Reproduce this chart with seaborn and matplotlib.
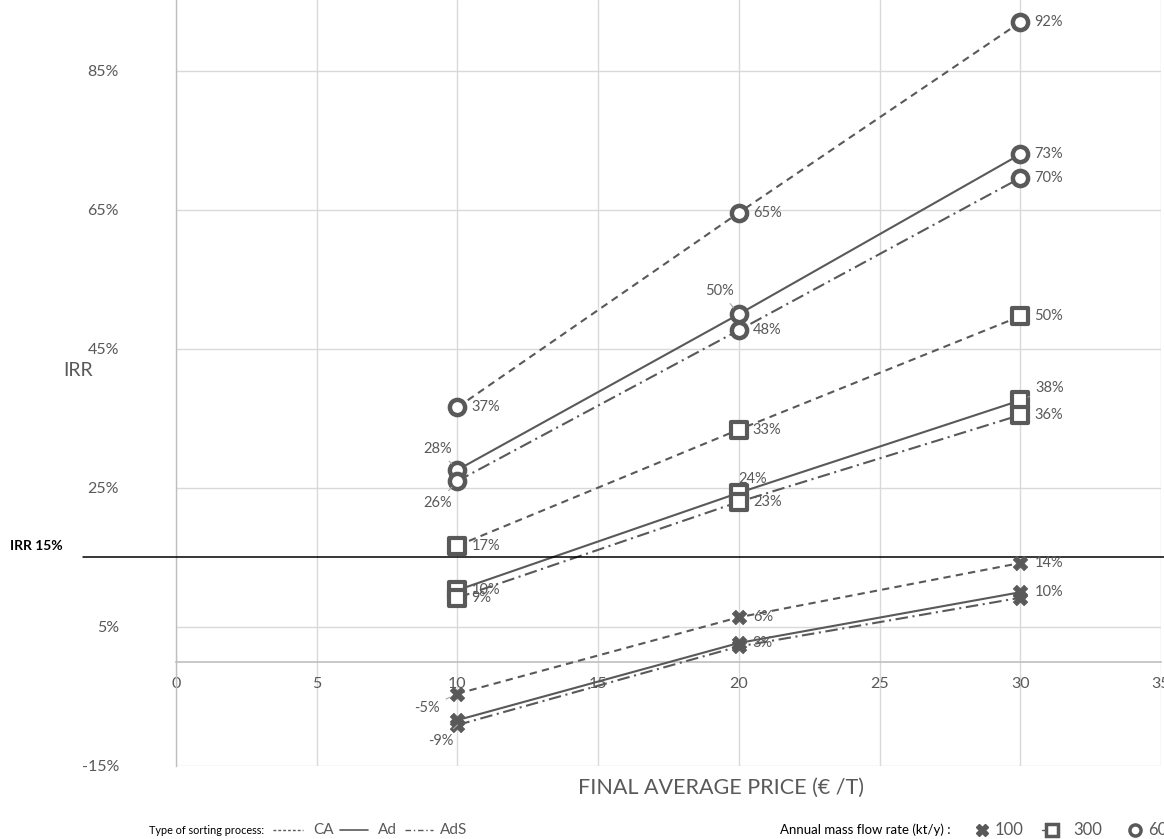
import matplotlib
matplotlib.use("Agg")
import matplotlib.pyplot as plt
from matplotlib.lines import Line2D
import seaborn as sns
import pandas as pd

# ---------------- data ----------------
prices = [10, 20, 30]
processes = ["CA", "Ad", "AdS"]
rates = [100, 300, 600]

ca_100 = [-4.6, 6.4, 14.2]
ca_300 = [16.7, 33.4, 49.7]
ca_600 = [36.6, 64.6, 92.0]
ad_100 = [-8.4, 2.7, 10.0]
ad_300 = [10.3, 24.3, 37.6]
ad_600 = [27.6, 50.0, 73.0]
ads_100 = [-9.1, 2.2, 9.2]
ads_300 = [9.2, 23.0, 35.5]
ads_600 = [26.0, 47.7, 69.6]

y_ticks = [-15, 5, 25, 45, 65, 85]
x_ticks = [0, 5, 10, 15, 20, 25, 30, 35]
irr_threshold = 15

series = {
    ("CA", 100): ca_100, ("CA", 300): ca_300, ("CA", 600): ca_600,
    ("Ad", 100): ad_100, ("Ad", 300): ad_300, ("Ad", 600): ad_600,
    ("AdS", 100): ads_100, ("AdS", 300): ads_300, ("AdS", 600): ads_600,
}
rows = []
for (proc, rate), vals in series.items():
    for p, v in zip(prices, vals):
        rows.append({"process": proc, "rate": rate, "price": p, "irr": v})
df = pd.DataFrame(rows)

# ---------------- style ----------------
sns.set_theme(style="white")
plt.rcParams["font.family"] = ["Lato", "DejaVu Sans"]

W, H = 1164, 839
fig = plt.figure(figsize=(W / 100, H / 100), dpi=100)
fx = lambda x: x / W
fy = lambda y: 1 - y / H

ax = fig.add_axes([fx(176), fy(766), fx(1161) - fx(176), fy(0) - fy(766)])
ax.set_xlim(0, 35)
ax.set_ylim(-15, 95.2)

GRAY = "#595959"
GRID = "#d9d9d9"

# lines
dashes = {"CA": (3.5, 2.5), "Ad": "", "AdS": (6, 2.2, 1, 2.2)}
sns.lineplot(data=df, x="price", y="irr", style="process", units="rate",
             estimator=None, dashes=dashes, color=GRAY, linewidth=1.5,
             legend=False, sort=False, ax=ax, zorder=3)
for l in ax.lines:
    l.set_color(GRAY)

# markers
for rate in rates:
    sub = df[df["rate"] == rate]
    if rate == 100:
        sns.scatterplot(data=sub, x="price", y="irr", marker="X", s=110,
                        color=GRAY, edgecolor=GRAY, linewidth=0.5,
                        legend=False, ax=ax, zorder=5)
    elif rate == 300:
        sns.scatterplot(data=sub, x="price", y="irr", marker="s", s=120,
                        facecolor="white", edgecolor=GRAY, linewidth=3,
                        legend=False, ax=ax, zorder=5)
    else:
        sns.scatterplot(data=sub, x="price", y="irr", marker="o", s=120,
                        facecolor="white", edgecolor=GRAY, linewidth=3.2,
                        legend=False, ax=ax, zorder=5)

# data labels
special = {
    ("CA", 100, 10): ((-30, -14), "center", True),
    ("AdS", 100, 10): ((-17, -16), "center", True),
    ("Ad", 300, 20): ((14, 14), "center", False),
    ("Ad", 300, 30): ((15, 12), "left", True),
    ("Ad", 600, 10): ((-20, 21), "center", True),
    ("AdS", 600, 10): ((-20, -22), "center", True),
    ("Ad", 600, 20): ((-19, 23), "center", True),
}
hidden = {("Ad", 100, 10), ("AdS", 100, 20), ("AdS", 100, 30)}
for (proc, rate), vals in series.items():
    for p, v in zip(prices, vals):
        key = (proc, rate, p)
        if key in hidden:
            continue
        off, ha, leader = special.get(key, ((14, 0), "left", False))
        kw = {}
        if leader:
            kw["arrowprops"] = dict(arrowstyle="-", color="#a6a6a6", lw=0.8,
                                    shrinkA=2, shrinkB=6)
        ax.annotate(f"{round(v):.0f}%", (p, v), xytext=off,
                    textcoords="offset pixels", ha=ha, va="center",
                    fontsize=10.5, color=GRAY, zorder=6, **kw)

# IRR threshold line
ax.axhline(irr_threshold, xmin=-(176 - 83) / 985, xmax=1.01, color="black",
           lw=1.1, clip_on=False, zorder=4)

# axes styling
ax.set_xticks(x_ticks)
ax.set_yticks(y_ticks)
ax.set_yticklabels([f"{t}%" for t in y_ticks])
ax.set_xticklabels([str(t) for t in x_ticks])
ax.grid(True, color=GRID, lw=1)
ax.set_axisbelow(True)
for s in ["top", "right"]:
    ax.spines[s].set_visible(False)
ax.spines["bottom"].set_position(("data", 0))
ax.spines["bottom"].set_color("#bfbfbf")
ax.spines["left"].set_color("#bfbfbf")
ax.spines["bottom"].set_linewidth(1.2)
ax.spines["left"].set_linewidth(1.0)
ax.tick_params(axis="y", length=0, pad=41, labelsize=11.5, labelcolor=GRAY)
ax.tick_params(axis="x", length=0, pad=11, labelsize=11.5, labelcolor=GRAY)
ax.set_xlabel("")
ax.set_ylabel("")

# titles / texts
fig.text(fx(78), fy(371), "IRR", ha="center", va="center", fontsize=14, color=GRAY)
fig.text(fx(10), fy(546), "IRR 15%", ha="left", va="center", fontsize=10,
         fontweight="bold", color="black")
fig.text(fx(721), fy(788), "FINAL AVERAGE PRICE (€ /T)", ha="center",
         va="center", fontsize=15.5, color=GRAY)

# legend (drawn at the bottom)
ly = fy(830)
fig.text(fx(149), ly, "Type of sorting process:", ha="left", va="center",
         fontsize=7.8, color="black")
fig.add_artist(Line2D([fx(273), fx(303)], [ly, ly], color=GRAY, lw=1,
                      dashes=(2, 1.5)))
fig.text(fx(313), ly, "CA", ha="left", va="center", fontsize=11, color=GRAY)
fig.add_artist(Line2D([fx(340), fx(368)], [ly, ly], color=GRAY, lw=1.2))
fig.text(fx(378), ly, "Ad", ha="left", va="center", fontsize=11, color=GRAY)
fig.add_artist(Line2D([fx(405), fx(433)], [ly, ly], color=GRAY, lw=1,
                      dashes=(4, 2, 1, 2)))
fig.text(fx(440), ly, "AdS", ha="left", va="center", fontsize=11, color=GRAY)

fig.text(fx(780), ly, "Annual mass flow rate (kt/y) :", ha="left", va="center",
         fontsize=9.5, color="black")
fig.add_artist(Line2D([fx(982)], [ly], marker="X", ms=8, color=GRAY, lw=0))
fig.text(fx(995), ly, "100", ha="left", va="center", fontsize=12, color=GRAY)
fig.add_artist(Line2D([fx(1042), fx(1052)], [ly, ly], color=GRAY, lw=1))
fig.add_artist(Line2D([fx(1052)], [ly], marker="s", ms=8, mfc="white",
                      mec=GRAY, mew=2.5, lw=0))
fig.text(fx(1073), ly, "300", ha="left", va="center", fontsize=12, color=GRAY)
fig.add_artist(Line2D([fx(1135)], [ly], marker="o", ms=8, mfc="white",
                      mec=GRAY, mew=2.5, lw=0))
fig.text(fx(1148), ly, "600", ha="left", va="center", fontsize=12, color=GRAY)

fig.savefig("out.png", dpi=100)
